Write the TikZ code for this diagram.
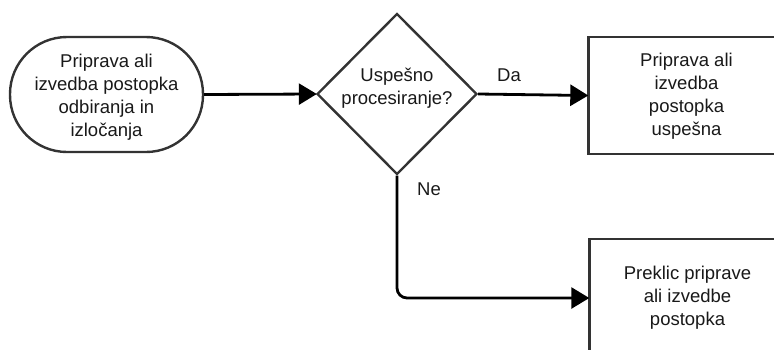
\documentclass[tikz,border=0pt]{standalone}
\usepackage{fontspec}
\setmainfont{Liberation Sans}
\usetikzlibrary{shapes.geometric,arrows.meta}
\definecolor{border}{HTML}{333333}
\begin{document}
\begin{tikzpicture}[x=1pt,y=-1pt,
  every node/.style={font=\fontsize{18.5}{23}\selectfont, text=black!90},
  shapebox/.style={draw=border, line width=2.4pt, fill=white, inner sep=0pt},
  txt/.style={align=center, inner sep=0pt},
  conn/.style={line width=2.8pt, black, -{Triangle[length=18pt,width=21pt]}, shorten >=-1pt},
  lbl/.style={inner sep=0pt}]
\useasboundingbox (0,0) rectangle (774,349);
\clip (0,0) rectangle (774,349);
\node[shapebox, rounded corners=57pt, minimum width=193pt, minimum height=115pt] (start) at (106.5,94.5) {};
\node[txt] (starttxt) at (106.5,97) {Priprava ali\\izvedba postopka\\odbiranja in\\izločanja};
\node[shapebox, diamond, minimum width=160pt, minimum height=161pt] (dec) at (397,94) {};
\node[txt] (dectxt) at (397,88) {Uspešno\\procesiranje?};
\node[shapebox, rectangle, minimum width=196pt, minimum height=117pt] (ok) at (686.5,95.5) {};
\node[txt] (oktxt) at (686.5,96.5) {Priprava ali\\izvedba\\postopka\\uspešna};
\node[shapebox, rectangle, minimum width=196pt, minimum height=118pt] (fail) at (687.5,298) {};
\node[txt] (failtxt) at (687.5,298) {Preklic priprave\\ali izvedbe\\postopka};
\coordinate (bend) at (dec.south |- fail.west);
\draw[conn] (start.east) -- (dec.west);
\draw[conn] (dec.east) -- (ok.west);
\draw[conn, rounded corners=10pt] (dec.south) -- (bend) -- (fail.west);
\node[lbl] (da) at (509,75) {Da};
\node[lbl] (ne) at (429,189) {Ne};
\end{tikzpicture}
\end{document}
